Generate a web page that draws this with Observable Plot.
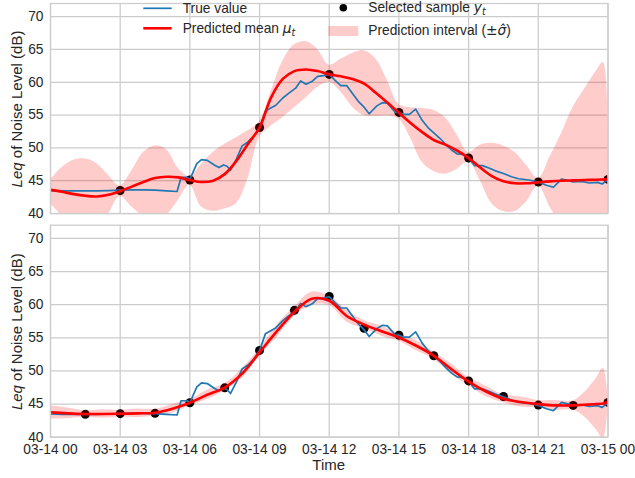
<!DOCTYPE html>
<html><head><meta charset="utf-8">
<script src="https://cdn.jsdelivr.net/npm/d3@7"></script>
<script src="https://cdn.jsdelivr.net/npm/@observablehq/plot@0.6"></script>
<style>
body{margin:0;background:#fff;}
#fig{position:relative;width:635px;height:478px;font-family:"Liberation Sans",Arial,sans-serif;}
#fig svg{display:block;overflow:visible}
</style></head><body><div id="fig"></div>
<script>
// ---- data (hours after 03-14 00:00) ----
const trueHours  = [0,0.5,1,1.5,2,2.5,3,3.5,4,4.5,5,5.45,5.62,5.88,6,6.3,6.5,6.75,7.05,7.25,7.45,7.6,7.75,8,8.25,8.5,8.75,9,9.25,9.5,9.7,10,10.25,10.55,10.77,11,11.25,11.5,11.75,12,12.25,12.5,12.75,13,13.25,13.5,13.72,14.05,14.3,14.5,14.85,15,15.2,15.45,15.72,16,16.25,16.5,16.75,17.05,17.3,17.5,17.75,18,18.25,18.6,18.9,19.15,19.5,19.85,20.15,20.6,21,21.35,21.65,22,22.3,22.5,22.85,23.2,23.55,23.75,24];
const trueValues = [43.5,43.45,43.45,43.45,43.45,43.5,43.55,43.6,43.6,43.55,43.45,43.35,45.5,45.5,45.2,47.6,48.2,48.1,47.4,47.0,47.4,47.2,46.6,48.3,50.3,50.9,51.8,53.1,55.6,56.1,56.5,57.6,58.3,59.1,60.2,59.7,60.1,60.9,61.0,61.2,60.3,59.5,59.5,58.3,57.1,56.2,55.2,56.4,56.9,56.8,55.4,55.4,55.1,55.1,55.9,54.2,53.1,52.3,51.5,50.4,49.6,49.1,49.0,48.5,47.3,47.3,46.9,46.5,46.1,45.6,45.3,45.1,44.8,44.3,44.0,45.25,45.0,44.8,44.9,44.65,44.75,44.5,45.2];

// top panel: 8 selected samples
const topSampleHours  = [3,6,9,12,15,18,21,24];
const topSampleValues = [43.5,45.1,53.1,61.2,55.4,48.45,44.8,45.2];
const topMeanHours  = [0,0.5,1,1.5,2,2.5,3,3.5,4,4.5,5,5.5,6,6.5,7,7.5,8,8.5,9,9.5,10,10.5,11,11.5,12,12.5,13,13.5,14,14.5,15,15.5,16,16.5,17,17.5,18,18.5,19,19.5,20,20.5,21,21.5,22,22.5,23,23.5,24];
const topMeanValues = [43.6,43.3,42.95,42.7,42.6,42.85,43.4,44.1,44.8,45.4,45.6,45.5,45.1,44.8,45.0,46.0,48.0,50.6,53.1,57.7,60.5,61.7,61.95,61.7,61.2,60.9,60.5,59.8,58.4,56.9,55.35,53.8,52.4,51.2,50.5,49.6,48.45,47.0,45.7,44.9,44.6,44.6,44.75,44.9,45.0,45.05,45.1,45.15,45.2];
const topBandHours = [0,0.5,1,1.5,2,2.5,3,3.5,4,4.5,5,5.5,6,6.5,7,7.5,8,8.5,9,9.5,10,10.5,11,11.5,12,12.5,13,13.5,14,14.5,15,15.5,16,16.5,17,17.5,18,18.5,19,19.5,20,20.5,21,21.5,22,22.5,23,23.5,23.8,24];
const topBandUpper = [45.1,47.0,48.1,48.3,47.6,45.8,44.2,46.5,49.3,50.3,49.7,46.9,45.6,47.5,49.3,50.55,51.55,52.6,54.0,58.6,63.2,65.7,66.2,65.0,62.6,63.5,64.4,64.8,63.6,60.3,56.6,56.1,56.0,55.7,54.6,52.0,49.3,50.4,50.7,50.3,49.3,47.3,45.3,48.6,52.2,56.2,59.0,61.7,63.0,46.0];
const topBandLower = [41.5,39.6,37.8,37.1,37.6,39.9,42.6,41.0,39.6,39.3,39.8,42.0,44.3,41.0,40.35,40.7,41.5,45.3,51.6,53.3,54.6,56.1,57.6,59.2,60.0,58.5,56.2,54.9,54.8,54.85,54.4,51.5,47.8,46.4,46.0,46.7,47.9,45.0,41.5,40.3,40.3,41.8,44.2,41.0,37.8,33.9,31.2,28.6,27.3,44.4];

// bottom panel: 16 selected samples
const botSampleHours  = [1.5,3,4.5,6,7.5,9,10.5,12,13.5,15,16.5,18,19.5,21,22.5,24];
const botSampleValues = [43.45,43.55,43.6,45.2,47.45,53.1,59.15,61.25,56.45,55.4,52.3,48.5,46.15,44.85,44.8,45.25];
const botMeanHours  = [0,0.75,1.5,2.25,3,3.75,4.5,5.25,6,6.75,7.5,8.25,9,9.75,10.5,11.25,12,12.75,13.5,14.25,15,15.75,16.5,17.25,18,18.75,19.5,20.25,21,21.75,22.5,23,23.5,23.8,24];
const botMeanValues = [43.75,43.6,43.5,43.5,43.55,43.6,43.7,44.3,45.2,46.4,47.5,49.6,52.8,56.0,58.9,60.9,60.6,58.3,57.0,56.0,55.05,53.8,52.3,50.3,48.4,46.9,45.8,45.3,45.0,44.8,44.8,44.9,45.0,45.1,45.3];
const botSigma      = [1.0,0.8,0.5,0.65,0.5,0.65,0.5,0.65,0.5,0.7,0.55,0.75,0.6,0.9,0.7,1.0,0.7,0.9,0.6,0.75,0.55,0.75,0.55,0.8,0.6,0.8,0.6,0.75,0.55,0.75,0.7,1.9,3.9,5.3,0.6];

const xTickHours = [0,3,6,9,12,15,18,21,24];
const yTicks = [40,45,50,55,60,65,70];

// ---- helpers ----
const T0 = Date.UTC(2020,2,14);
const toDate = h => new Date(T0 + h*3600e3);
const pts = (hs, vs) => hs.map((h,i)=>({t:toDate(h), v:vs[i]}));
const trueData = pts(trueHours, trueValues);
const xTicks = xTickHours.map(toDate);
const fmt = d3.utcFormat("%m-%d %H");

const BLUE="#1f77b4", RED="#ff0000", GRID="#cccccc", TXT="#262626";
const FONT='"Liberation Sans",Arial,sans-serif';

function panel({height, mt, mb, samples, mean, band, showX}) {
  return Plot.plot({
    width:635, height, marginLeft:50, marginRight:27.5, marginTop:mt, marginBottom:mb,
    style:{fontFamily:FONT, fontSize:"13.75px", color:TXT, background:"white", overflow:"visible"},
    x:{type:"utc", domain:[toDate(0), toDate(24)], axis:null},
    y:{domain:[40,72], axis:null},
    marks:[
      Plot.gridX(xTicks,{stroke:GRID, strokeOpacity:1, strokeWidth:1.25}),
      Plot.gridY(yTicks,{stroke:GRID, strokeOpacity:1, strokeWidth:1.25}),
      Plot.dot(samples,{x:"t", y:"v", r:4.5, fill:"black", clip:true}),
      Plot.areaY(band,{x:"t", y1:"lo", y2:"hi", fill:RED, fillOpacity:0.2, curve:"catmull-rom", clip:true}),
      Plot.line(trueData,{x:"t", y:"v", stroke:BLUE, strokeWidth:1.7, clip:true}),
      Plot.line(mean,{x:"t", y:"v", stroke:RED, strokeWidth:2.6, curve:"catmull-rom", clip:true}),
      Plot.frame({stroke:GRID, strokeWidth:1.25}),
      Plot.axisY(yTicks,{tickSize:0, tickPadding:7, label:null, fill:TXT}),
      showX ? Plot.axisX(xTicks,{tickSize:0, tickPadding:7.5, tickFormat:fmt, label:null, fill:TXT}) : null
    ]
  });
}

const topBand = topBandHours.map((h,i)=>({t:toDate(h), lo:topBandLower[i], hi:topBandUpper[i]}));
const botBand = botMeanHours.map((h,i)=>({t:toDate(h), lo:botMeanValues[i]-botSigma[i], hi:botMeanValues[i]+botSigma[i]}));

const topSvg = panel({height:219, mt:3, mb:6, samples:pts(topSampleHours,topSampleValues), mean:pts(topMeanHours,topMeanValues), band:topBand, showX:false});
const botSvg = panel({height:259, mt:5.7, mb:41.3, samples:pts(botSampleHours,botSampleValues), mean:pts(botMeanHours,botMeanValues), band:botBand, showX:true});

const fig = document.getElementById("fig");
fig.appendChild(topSvg); fig.appendChild(botSvg);

function richText(g, x, y, parts, opts={}) {
  const t = g.append("text").attr("x",x).attr("y",y).attr("fill",TXT)
    .attr("font-family",FONT).attr("font-size",opts.size||13.75)
    .attr("text-anchor",opts.anchor||"start");
  if (opts.transform) t.attr("transform",opts.transform);
  parts.forEach(p=>{
    const s=t.append("tspan").text(p.text);
    if(p.italic) s.attr("font-style","italic");
    if(p.math) s.attr("font-family","DejaVu Sans");
    if(p.size) s.attr("font-size",p.size);
    if(p.dy) s.attr("dy",p.dy);
  });
  return t;
}

// y labels
[[topSvg,3,213],[botSvg,5.7,217.7]].forEach(([svg,a,b])=>{
  const g=d3.select(svg).append("g");
  richText(g,0,0,[{text:"Leq",italic:true},{text:" of Noise Level (dB)"}],
    {size:15, anchor:"middle", transform:`translate(21.5,${(a+b)/2+1}) rotate(-90)`});
});
// x label
richText(d3.select(botSvg).append("g"), 328.75, 251.3, [{text:"Time"}], {size:15, anchor:"middle"});

// legend
const lg = d3.select(topSvg).append("g");
lg.append("line").attr("x1",143.3).attr("x2",171.7).attr("y1",8.3).attr("y2",8.3).attr("stroke",BLUE).attr("stroke-width",1.7);
richText(lg,182.7,13,[{text:"True value"}]);
lg.append("line").attr("x1",143.3).attr("x2",171.7).attr("y1",28.3).attr("y2",28.3).attr("stroke",RED).attr("stroke-width",2.6);
richText(lg,182.7,33,[{text:"Predicted mean "},{text:"μ",italic:true,math:true},{text:"t",italic:true,math:true,size:9.6,dy:3}]);
lg.append("circle").attr("cx",343.3).attr("cy",7.7).attr("r",3.8).attr("fill","black");
richText(lg,368.3,12,[{text:"Selected sample "},{text:"y",italic:true,math:true},{text:"t",italic:true,math:true,size:9.6,dy:3}]);
lg.append("rect").attr("x",328.3).attr("y",26).attr("width",30).attr("height",10).attr("fill",RED).attr("fill-opacity",0.2);
richText(lg,368.3,35,[{text:"Prediction interval ("},{text:"±",math:true},{text:"σ\u0302",italic:true,math:true},{text:")"}]);
</script></body></html>
